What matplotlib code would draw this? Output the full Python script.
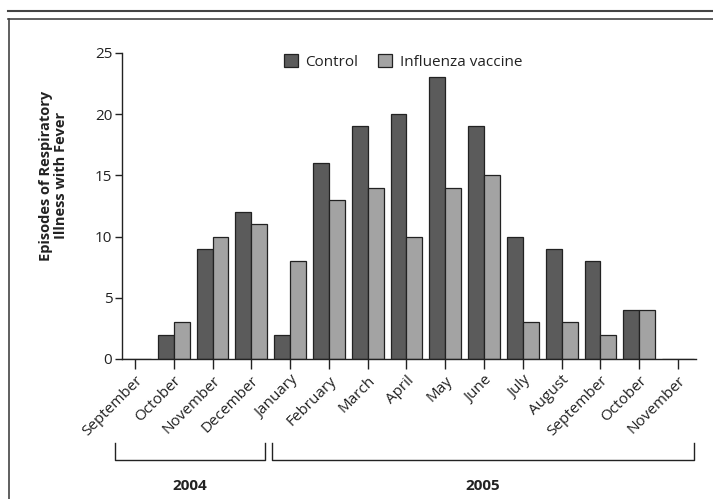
import matplotlib
matplotlib.use("Agg")
import matplotlib.pyplot as plt
from matplotlib.lines import Line2D
from matplotlib.patches import Patch
import numpy as np

months = ["September", "October", "November", "December", "January",
          "February", "March", "April", "May", "June", "July", "August",
          "September", "October", "November"]
control = [0, 2, 9, 12, 2, 16, 19, 20, 23, 19, 10, 9, 8, 4, 0]
vaccine = [0, 3, 10, 11, 8, 13, 14, 10, 14, 15, 3, 3, 2, 4, 0]
years = ["2004", "2005"]
year_spans = [(-0.52, 3.35), (3.53, 14.41)]

plt.rcParams["font.family"] = ["Open Sans", "DejaVu Sans"]
ink = "#222222"
control_color = "#5b5b5b"
vaccine_color = "#a3a3a3"

fig = plt.figure(figsize=(7.13, 4.99), dpi=100)
ax = fig.add_axes([0.171, 0.2806, 0.805, 0.6132])

x = np.arange(len(months))
w = 0.41
ax.bar(x - w, control, width=w, align="edge", color=control_color,
       edgecolor=ink, linewidth=0.9, label="Control")
ax.bar(x, vaccine, width=w, align="edge", color=vaccine_color,
       edgecolor=ink, linewidth=0.9, label="Influenza vaccine")

ax.set_xlim(-0.335, 14.46)
ax.set_ylim(0, 25)
ax.set_yticks(range(0, 26, 5))
ax.set_xticks(x)
ax.set_xticklabels(months, rotation=45, ha="right", rotation_mode="anchor",
                   fontsize=11, color=ink)
for lab in ax.get_yticklabels():
    lab.set_fontsize(11)
    lab.set_color(ink)
ax.tick_params(axis="x", length=7, width=1, color=ink, pad=3)
ax.tick_params(axis="y", length=5, width=1, color=ink, pad=2)

for side in ["top", "right"]:
    ax.spines[side].set_visible(False)
for side in ["left", "bottom"]:
    ax.spines[side].set_color(ink)
    ax.spines[side].set_linewidth(1)

ax.set_ylabel("Episodes of Respiratory\nIllness with Fever", fontsize=10.5,
              fontweight="bold", color=ink, linespacing=1.1)
ax.yaxis.set_label_coords(-0.094, 0.60)

handles = [Patch(facecolor=control_color, edgecolor=ink, linewidth=0.9),
           Patch(facecolor=vaccine_color, edgecolor=ink, linewidth=0.9)]
ax.legend(handles, ["Control", "Influenza vaccine"], loc="center",
          bbox_to_anchor=(0.49, 0.97), ncol=2, frameon=False, fontsize=11,
          handlelength=0.9, handleheight=0.9, handletextpad=0.5,
          columnspacing=1.3, labelcolor=ink)

# year brackets under the month labels
trans = matplotlib.transforms.blended_transform_factory(ax.transData,
                                                         fig.transFigure)
y_lo, y_hi = 0.078, 0.112
for year, (x0, x1) in zip(years, year_spans):
    ax.plot([x0, x0, x1, x1], [y_hi, y_lo, y_lo, y_hi], color=ink, lw=1,
            transform=trans, clip_on=False)
    ax.text((x0 + x1) / 2, 0.026, year, transform=trans, ha="center",
            va="center", fontsize=11, fontweight="bold", color=ink)

# page frame
frame = "#444444"
fig.add_artist(Line2D([0.011, 1.0], [0.978, 0.978], color=frame, lw=1.5,
                      transform=fig.transFigure))
fig.add_artist(Line2D([0.011, 1.0], [0.962, 0.962], color=frame, lw=1.2,
                      transform=fig.transFigure))
fig.add_artist(Line2D([0.012, 0.012], [0.0, 0.962], color=frame, lw=1.2,
                      transform=fig.transFigure))

fig.savefig("out.png", dpi=100)
